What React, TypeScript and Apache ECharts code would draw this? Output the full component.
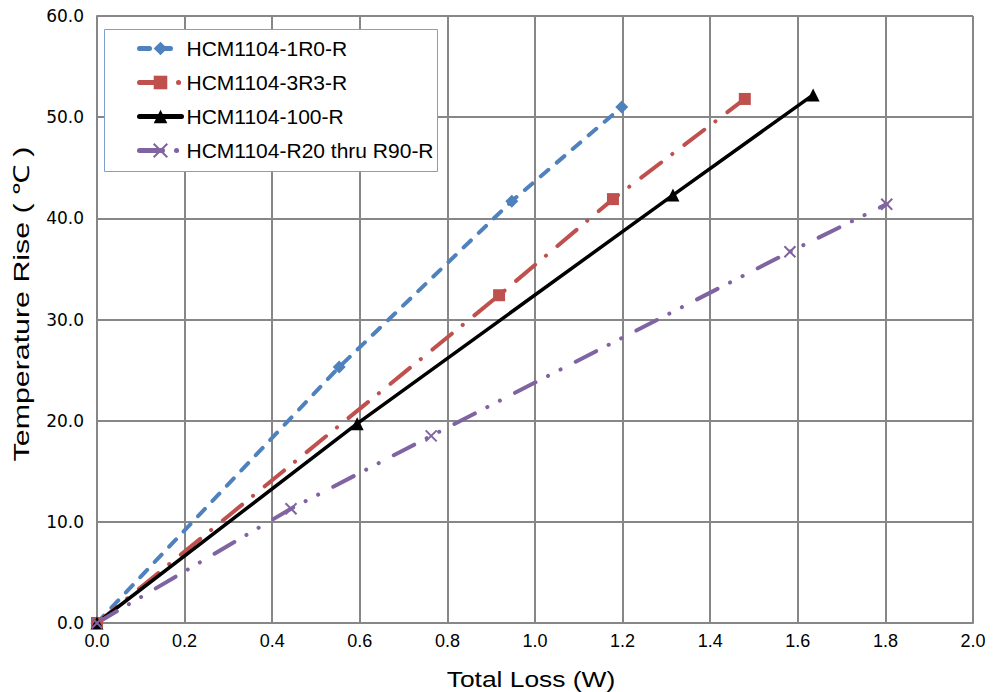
import React, { useEffect, useRef } from "react";
import * as echarts from "echarts";

const seriesNames = [
  "HCM1104-1R0-R",
  "HCM1104-3R3-R",
  "HCM1104-100-R",
  "HCM1104-R20 thru R90-R",
];

const loss1R0 = [0, 0.553, 0.947, 1.198];
const temp1R0 = [0, 25.3, 41.7, 51.0];

const loss3R3 = [0, 0.918, 1.178, 1.479];
const temp3R3 = [0, 32.4, 41.9, 51.8];

const loss100 = [0, 0.594, 1.315, 1.635];
const temp100 = [0, 19.7, 42.3, 52.2];

const lossR20 = [0, 0.443, 0.763, 1.582, 1.803];
const tempR20 = [0, 11.3, 18.5, 36.7, 41.4];

const xTicks = { min: 0, max: 2.0, interval: 0.2 };
const yTicks = { min: 0, max: 60, interval: 10 };

const xTitle = "Total Loss (W)";
const yTitle = "Temperature Rise ( \u2103 )";

const pair = (xs: number[], ys: number[]) => xs.map((x, i) => [x, ys[i]]);

export default function App() {
  const ref = useRef<HTMLDivElement>(null);

  useEffect(() => {
    if (!ref.current) return;
    const chart = echarts.init(ref.current, undefined, { renderer: "svg" });
    const font = "'Liberation Sans', Arial, sans-serif";
    const wide = "'DejaVu Sans', sans-serif";
    const grid = "#878787";

    const mk = (
      name: string,
      data: number[][],
      color: string,
      symbol: string,
      symbolSize: number,
      type: any,
      width: number,
      extraItem: any = {}
    ) => ({
      name,
      type: "line",
      data,
      symbol,
      symbolSize,
      showSymbol: true,
      lineStyle: { color, width, type, cap: "round" },
      itemStyle: { color, ...extraItem },
      z: 3,
    });

    chart.setOption({
      animation: false,
      backgroundColor: "#ffffff",
      textStyle: { fontFamily: font },
      grid: { left: 97, top: 16, right: 20, bottom: 69, containLabel: false },
      xAxis: {
        type: "value",
        min: xTicks.min,
        max: xTicks.max,
        interval: xTicks.interval,
        axisLine: { show: true, lineStyle: { color: grid, width: 2 } },
        axisTick: { show: false },
        splitLine: { show: true, lineStyle: { color: grid, width: 2 } },
        axisLabel: {
          color: "#000",
          fontSize: 18,
          margin: 9,
          fontFamily: font,
          formatter: (v: number) => v.toFixed(1),
        },
      },
      yAxis: {
        type: "value",
        min: yTicks.min,
        max: yTicks.max,
        interval: yTicks.interval,
        axisLine: { show: true, lineStyle: { color: grid, width: 2 } },
        axisTick: { show: false },
        splitLine: { show: true, lineStyle: { color: grid, width: 2 } },
        axisLabel: {
          color: "#000",
          fontSize: 17,
          margin: 13,
          fontFamily: wide,
          formatter: (v: number) => v.toFixed(1),
        },
      },
      graphic: [
        {
          type: "rect",
          shape: { x: 104.5, y: 29.5, width: 333, height: 142 },
          style: { fill: "#ffffff", stroke: "#7f9fcf", lineWidth: 1 },
          z: 10,
        },
        {
          type: "text",
          x: 22,
          y: 304,
          rotation: Math.PI / 2,
          scaleX: 1.38,
          style: {
            text: yTitle,
            fontSize: 22,
            fontFamily: font,
            fill: "#000",
            align: "center",
            verticalAlign: "middle",
          },
        },
        {
          type: "text",
          x: 531,
          y: 679,
          scaleX: 1.2,
          style: {
            text: xTitle,
            fontSize: 22,
            fontFamily: font,
            fill: "#000",
            align: "center",
            verticalAlign: "middle",
          },
        },
      ],
      legend: {
        orient: "vertical",
        left: 137,
        top: 38,
        padding: 0,
        itemWidth: 42,
        itemHeight: 17,
        itemGap: 13,
        z: 20,
        textStyle: { fontSize: 21, color: "#000", fontFamily: font, lineHeight: 20 },
        data: seriesNames.map((n) => ({ name: n, lineStyle: { width: 5 } })),
      },
      series: [
        mk(seriesNames[0], pair(loss1R0, temp1R0), "#4F81BD", "diamond", 13, [10, 11], 4),
        mk(seriesNames[1], pair(loss3R3, temp3R3), "#C0504D", "rect", 12, [25, 14, 0.1, 15], 4),
        mk(seriesNames[2], pair(loss100, temp100), "#000000", "triangle", 13, "solid", 3.5),
        mk(
          seriesNames[3],
          pair(lossR20, tempR20),
          "#8064A2",
          "path://M0,0L10,10M10,0L0,10",
          11,
          [23, 14, 0.1, 14, 0.1, 17],
          4,
          { borderColor: "#8064A2", borderWidth: 2 }
        ),
      ],
    });
    return () => chart.dispose();
  }, []);

  return (
    <div
      ref={ref}
      style={{ position: "fixed", left: 0, top: 0, width: 993, height: 692, background: "#fff" }}
    />
  );
}
